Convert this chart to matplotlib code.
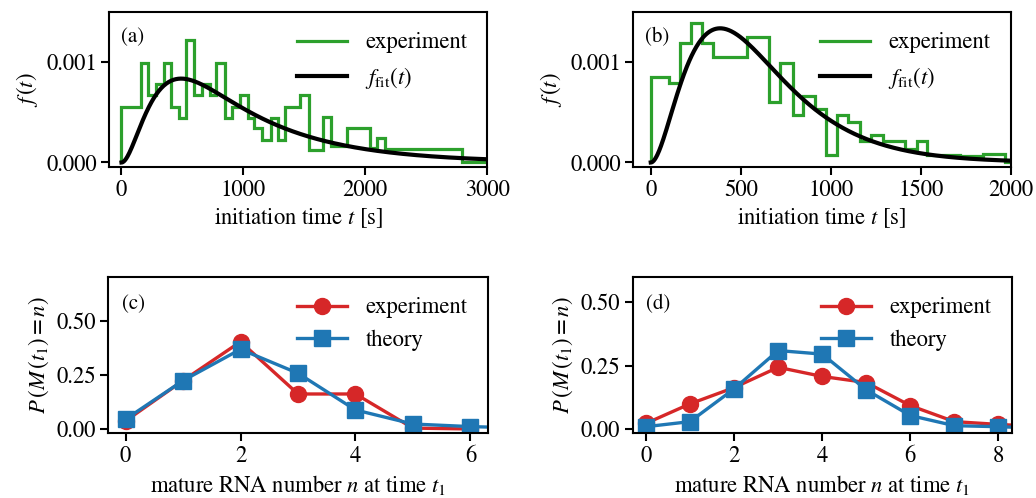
import numpy as np
import matplotlib
matplotlib.use("Agg")
import matplotlib.pyplot as plt
from matplotlib.ticker import FormatStrFormatter

# ---- data -------------------------------------------------------------
# (a) histogram of initiation times: bin edges [s] and densities [1/s]
edges_a = [0, 158, 219, 279, 347, 405, 470, 533, 596, 662, 725, 779, 848, 908,
           971, 1034, 1088, 1154, 1225, 1285, 1345, 1463, 1537, 1654, 1717,
           1846, 2037, 2092, 2160, 2789, 3000]
dens_a = [0.556e-3, 0.993e-3, 0.672e-3, 0.781e-3, 0.993e-3, 0.556e-3, 0.440e-3,
          1.219e-3, 0.672e-3, 0.781e-3, 0.672e-3, 0.993e-3, 0.440e-3, 0.556e-3,
          0.672e-3, 0.440e-3, 0.341e-3, 0.225e-3, 0.440e-3, 0.225e-3, 0.556e-3,
          0.672e-3, 0.126e-3, 0.450e-3, 0.159e-3, 0.341e-3, 0.142e-3, 0.242e-3,
          0.132e-3, 0.0]

# (b) histogram of initiation times
edges_b = [0, 101, 163, 222, 283, 348, 537, 659, 718, 789, 848, 913, 975, 1037,
           1098, 1163, 1222, 1289, 1413, 1478, 1533, 1718, 1848, 1968, 2000]
dens_b = [0.854e-3, 0.788e-3, 1.186e-3, 1.384e-3, 1.186e-3, 1.053e-3, 1.251e-3,
          0.600e-3, 0.987e-3, 0.474e-3, 0.662e-3, 0.533e-3, 0.071e-3, 0.474e-3,
          0.401e-3, 0.209e-3, 0.275e-3, 0.209e-3, 0.136e-3, 0.209e-3, 0.076e-3,
          0.066e-3, 0.086e-3, 0.008e-3]

# fitted three-step waiting-time model: one slow step + two fast steps [s]
tau_slow_a, tau_fast_a = 700.0, 150.0
tau_slow_b, tau_fast_b = 300.0, 155.0

# (c) mature RNA number distribution
n_exp_c = [0, 1, 2, 3, 4, 5, 6]
p_exp_c = [0.037, 0.224, 0.404, 0.162, 0.162, 0.004, 0.0]
n_th_c = [0, 1, 2, 3, 4, 5, 6, 7]
p_th_c = [0.045, 0.224, 0.369, 0.258, 0.088, 0.023, 0.011, 0.004]

# (d) mature RNA number distribution
n_exp_d = [0, 1, 2, 3, 4, 5, 6, 7, 8, 9]
p_exp_d = [0.022, 0.099, 0.163, 0.243, 0.207, 0.183, 0.092, 0.029, 0.018, 0.009]
n_th_d = [0, 1, 2, 3, 4, 5, 6, 7, 8, 9]
p_th_d = [0.009, 0.029, 0.158, 0.309, 0.295, 0.154, 0.053, 0.013, 0.009, 0.003]


def f_fit(t, tau_s, tau_f):
    """Density of Exp(tau_s) convolved with Gamma(2, tau_f)."""
    c = 1.0 / tau_f - 1.0 / tau_s
    amp = tau_s / (tau_s - tau_f) ** 2
    return amp * np.exp(-t / tau_s) * (1.0 - np.exp(-c * t) * (1.0 + c * t))


# ---- style ------------------------------------------------------------
plt.rcParams.update({
    "font.family": "STIXGeneral",
    "mathtext.fontset": "stix",
    "font.size": 16.3,
    "axes.linewidth": 1.5,
    "xtick.major.width": 1.5,
    "ytick.major.width": 1.5,
    "xtick.major.size": 5.5,
    "ytick.major.size": 5.5,
    "legend.frameon": False,
    "legend.handlelength": 2.2,
})

GREEN, RED, BLUE = "#2ca02c", "#d62728", "#1f77b4"

W, H = 1036, 498
fig = plt.figure(figsize=(W / 100, H / 100), dpi=100)


def panel(left, right, top, bottom):
    return fig.add_axes([left / W, 1 - bottom / H, (right - left) / W, (bottom - top) / H])


ax_a = panel(109.3, 487.3, 11.7, 167.0)
ax_b = panel(633.3, 1010.7, 11.7, 167.0)
ax_c = panel(108.3, 487.7, 276.7, 433.3)
ax_d = panel(632.7, 1011.7, 276.7, 433.3)

# ---- top row: initiation-time densities ------------------------------
for ax, edges, dens, ts, tf, xmax, xticks, lab in [
    (ax_a, edges_a, dens_a, tau_slow_a, tau_fast_a, 3000, [0, 1000, 2000, 3000], "(a)"),
    (ax_b, edges_b, dens_b, tau_slow_b, tau_fast_b, 2000, [0, 500, 1000, 1500, 2000], "(b)"),
]:
    ax.stairs(dens, edges, color=GREEN, lw=2.3, label="experiment")
    t = np.linspace(0, xmax, 600)
    ax.plot(t, f_fit(t, ts, tf), color="black", lw=3.0, label=r"$f_{\mathrm{fit}}(t)$")
    ax.set_xlim(-100 if xmax == 3000 else -97, xmax)
    ax.set_ylim(-0.000045, 0.0015)
    ax.set_xticks(xticks)
    ax.set_yticks([0, 0.001])
    ax.yaxis.set_major_formatter(FormatStrFormatter("%.3f"))
    ax.set_xlabel(r"initiation time $t$ [s]")
    ax.set_ylabel(r"$f\,(t)$")
    ax.legend(loc="upper right")
    ax.text(0.03, 0.835, lab, transform=ax.transAxes, ha="left", va="center", fontsize=15)

# ---- bottom row: mature RNA number distributions ---------------------
for ax, ne, pe, nt, pt, xlim, ylim, xticks, lab in [
    (ax_c, n_exp_c, p_exp_c, n_th_c, p_th_c, (-0.3, 6.3), (-0.02, 0.705), [0, 2, 4, 6], "(c)"),
    (ax_d, n_exp_d, p_exp_d, n_th_d, p_th_d, (-0.3, 8.3), (-0.017, 0.6), [0, 2, 4, 6, 8], "(d)"),
]:
    ax.plot(ne, pe, color=RED, lw=2.4, marker="o", ms=11.5, label="experiment")
    ax.plot(nt, pt, color=BLUE, lw=2.4, marker="s", ms=11, label="theory")
    ax.set_xlim(*xlim)
    ax.set_ylim(*ylim)
    ax.set_xticks(xticks)
    ax.set_yticks([0, 0.25, 0.5])
    ax.yaxis.set_major_formatter(FormatStrFormatter("%.2f"))
    ax.set_xlabel(r"mature RNA number $n$ at time $t_1$")
    ax.set_ylabel(r"$P\,(M\,(t_1) = n)$")
    ax.legend(loc="upper right")
    ax.text(0.035, 0.826, lab, transform=ax.transAxes, ha="left", va="center", fontsize=15)

fig.savefig("out.png", dpi=100)
